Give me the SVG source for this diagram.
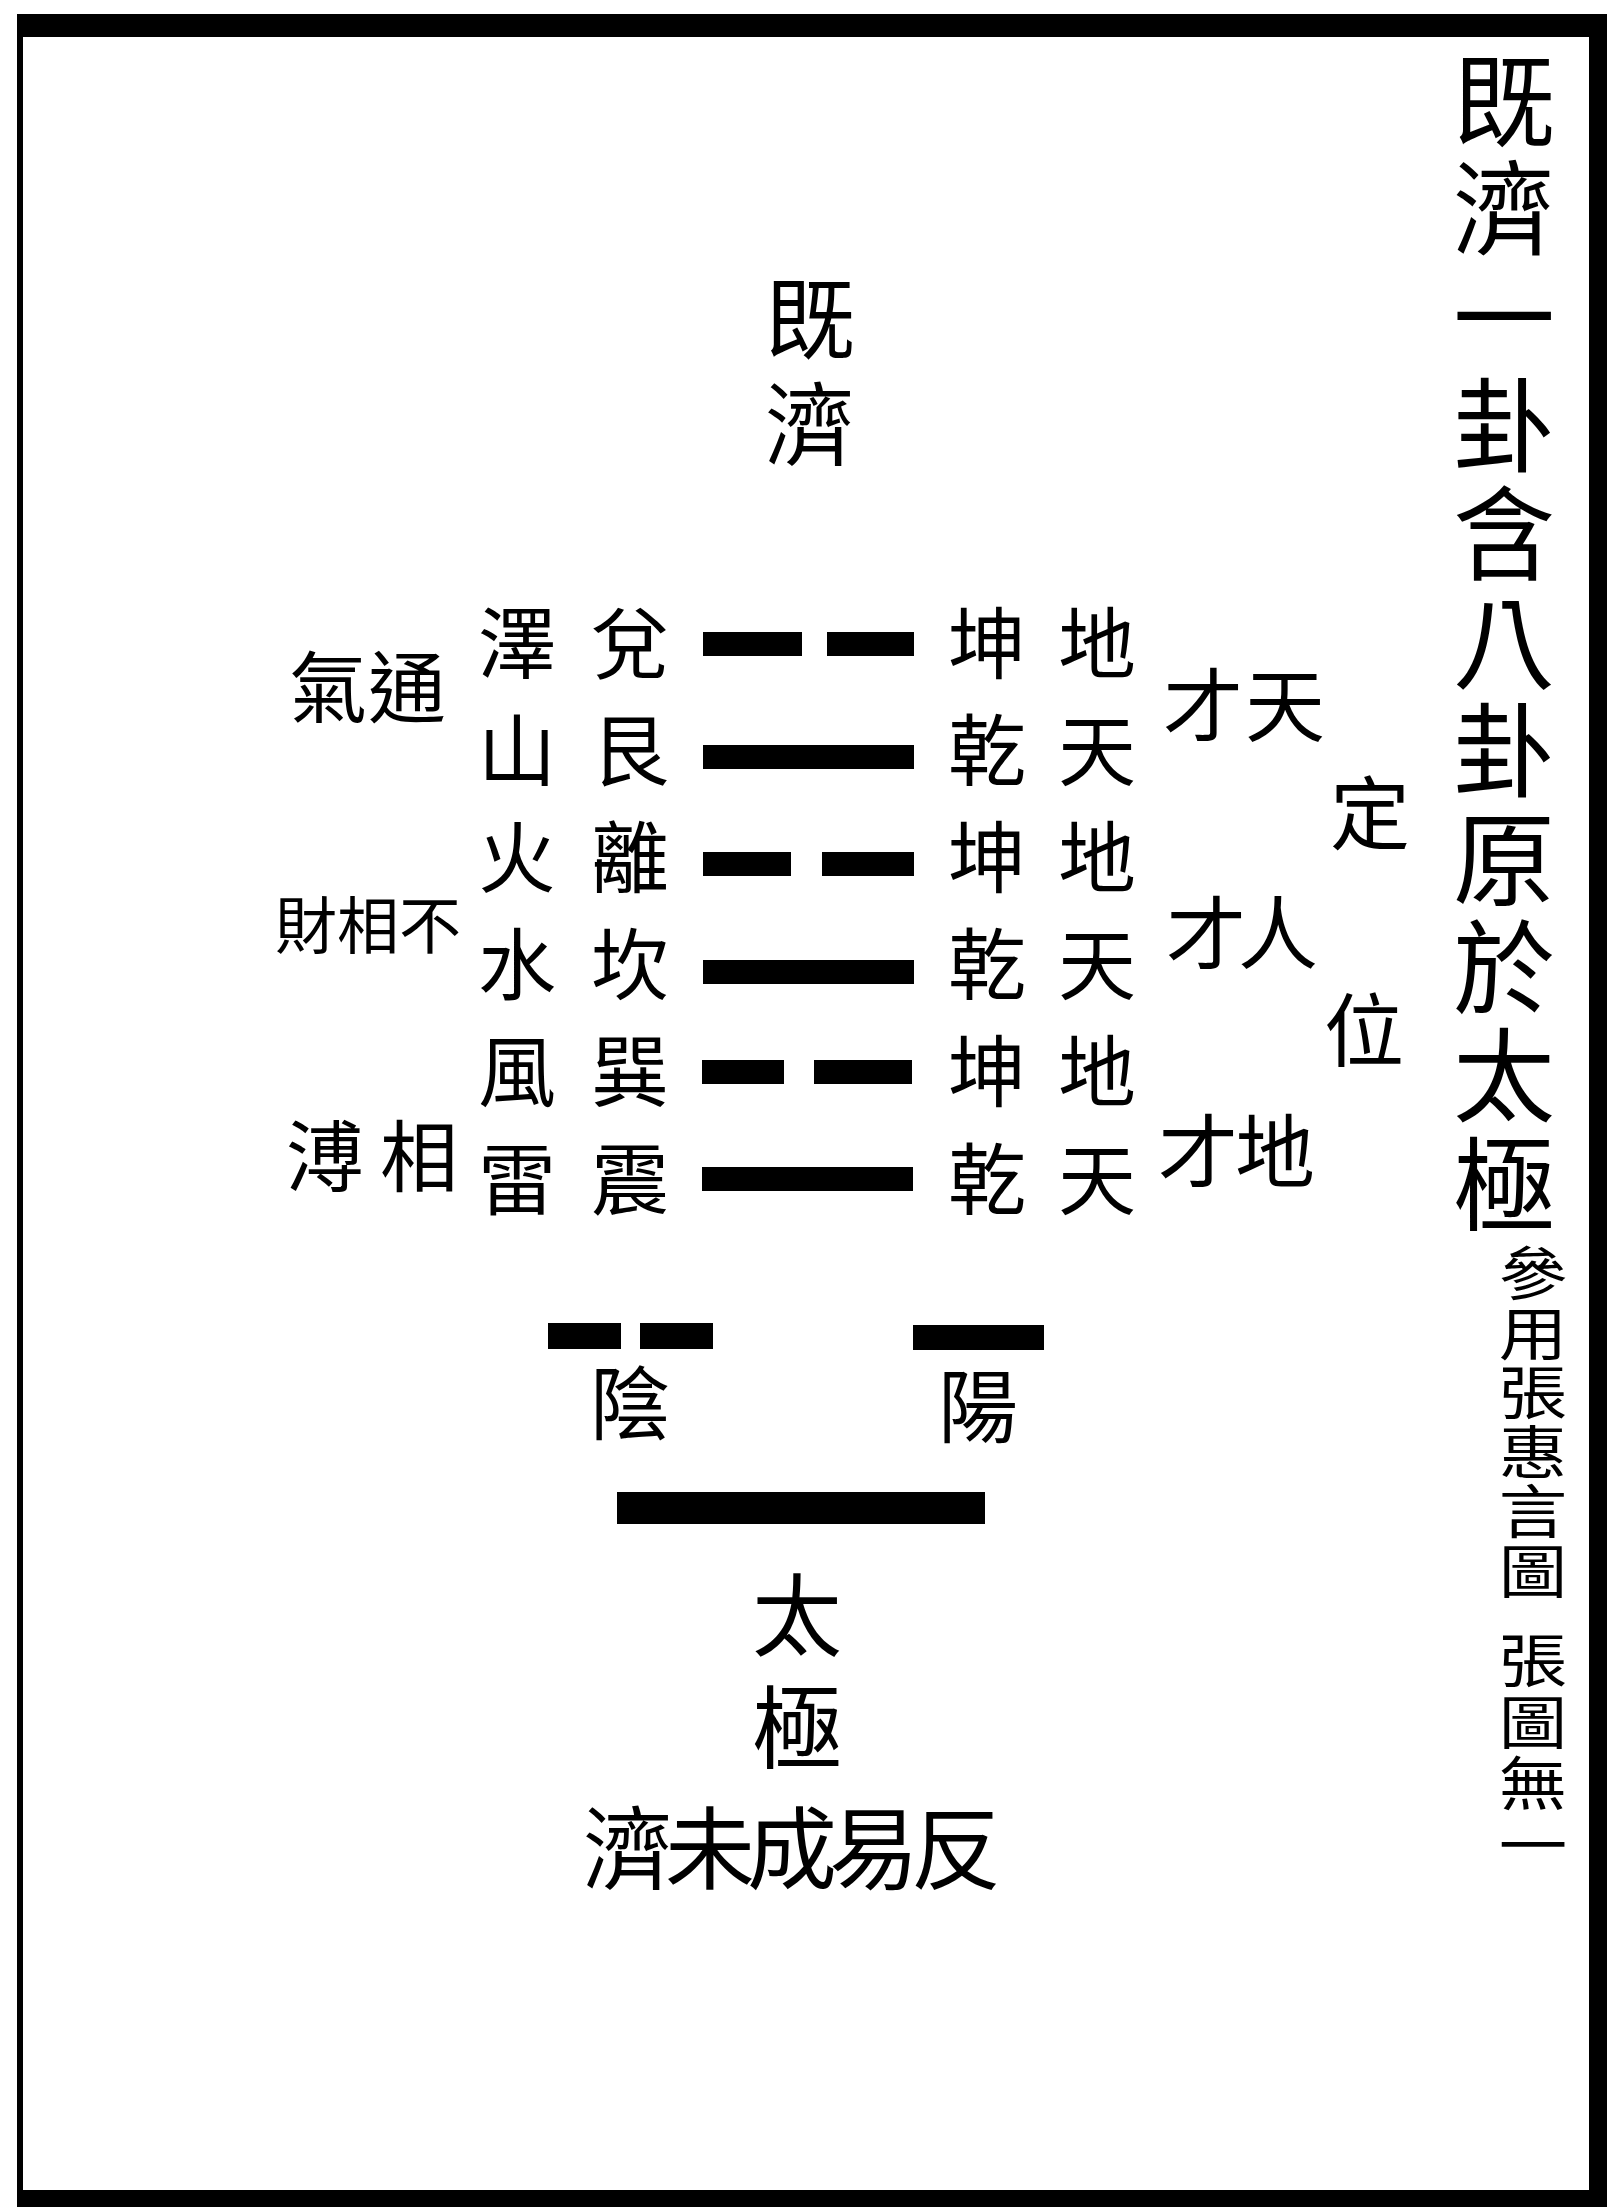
<svg xmlns="http://www.w3.org/2000/svg" width="1607" height="2207" viewBox="0 0 1607 2207">
<style>
.cjk{font-family:'Noto Sans CJK TC','Noto Sans CJK SC','Noto Sans CJK JP',sans-serif;fill:#000;text-anchor:middle;dominant-baseline:central}
.v{writing-mode:vertical-rl;text-anchor:start;dominant-baseline:central}
.title{font-size:102px;letter-spacing:6.4px}
.note{font-size:58px;letter-spacing:1.5px}
.note2{font-size:58px;letter-spacing:3.5px}
.row{font-size:78px}
.col{font-size:78px;letter-spacing:29.2px}
.small{font-size:62px}
.side{font-size:80px}
.big{font-size:90px}
.head{font-size:90px;letter-spacing:16px}
.tj{font-size:90px;letter-spacing:22px}
.bar{fill:#000}
</style>
<rect width="1607" height="2207" fill="#fff"/>
<g id="frame">
<rect x="17" y="14" width="1590" height="23" fill="#000"/>
<rect x="17" y="14" width="6" height="2190" fill="#000"/>
<rect x="1589" y="14" width="18" height="2193" fill="#000"/>
<rect x="17" y="2190" width="1590" height="17" fill="#000"/>
</g>
<g id="title">
<text class="cjk v title" x="1504" y="49">既濟一卦含八卦原於太極</text>
</g>
<g id="note" transform="translate(1533,0) scale(1.18,1)">
<text class="cjk v note" x="0" y="1244">參用張惠言圖</text>
<text class="cjk v note2" x="0" y="1631">張圖無一</text>
</g>
<g id="heading">
<text class="cjk v head" x="810" y="273">既濟</text>
</g>
<g id="col-nature">
<text class="cjk v col" x="517" y="604">澤山火水風雷</text>
</g>
<g id="col-trigram">
<text class="cjk v col" x="630" y="604">兌艮離坎巽震</text>
</g>
<g id="lines">
<rect class="bar" x="703" y="632" width="99" height="24"/><rect class="bar" x="827" y="632" width="87" height="24"/>
<rect class="bar" x="703" y="745" width="211" height="24"/>
<rect class="bar" x="703" y="852" width="88" height="24"/><rect class="bar" x="822" y="852" width="92" height="24"/>
<rect class="bar" x="703" y="960" width="211" height="24"/>
<rect class="bar" x="702" y="1060" width="82" height="24"/><rect class="bar" x="814" y="1060" width="98" height="24"/>
<rect class="bar" x="702" y="1167" width="211" height="24"/>
</g>
<g id="col-kunqian">
<text class="cjk v col" x="987" y="604">坤乾坤乾坤乾</text>
</g>
<g id="col-tiandi">
<text class="cjk v col" x="1097" y="604">地天地天地天</text>
</g>
<g id="tiancai"><text class="cjk side" x="1203 1285" y="700">才天</text></g>
<g id="rencai"><text class="cjk side" x="1206 1278" y="928">才人</text></g>
<g id="dicai"><text class="cjk side" x="1198 1275" y="1146">才地</text></g>
<g id="dingwei">
<text class="cjk side" x="1370" y="808">定</text>
<text class="cjk side" x="1364" y="1025">位</text>
</g>
<g id="tongqi"><text class="cjk row" x="328 407" y="683">氣通</text></g>
<g id="buxiangshe"><text class="cjk small" x="306 368 430" y="922">財相不</text></g>
<g id="xiangbo"><text class="cjk row" x="325 419" y="1152">溥相</text></g>
<g id="yin">
<rect class="bar" x="548" y="1323" width="73" height="26"/><rect class="bar" x="640" y="1323" width="73" height="26"/>
<text class="cjk side" x="630" y="1398">陰</text>
</g>
<g id="yang">
<rect class="bar" x="913" y="1325" width="131" height="25"/>
<text class="cjk side" x="978" y="1401">陽</text>
</g>
<g id="taiji-line">
<rect class="bar" x="617" y="1492" width="368" height="32"/>
</g>
<g id="taiji">
<text class="cjk v tj" x="797" y="1570">太極</text>
</g>
<g id="bottom-text"><text class="cjk big" x="628 710 792 874 956" y="1843">濟未成易反</text></g>
</svg>
